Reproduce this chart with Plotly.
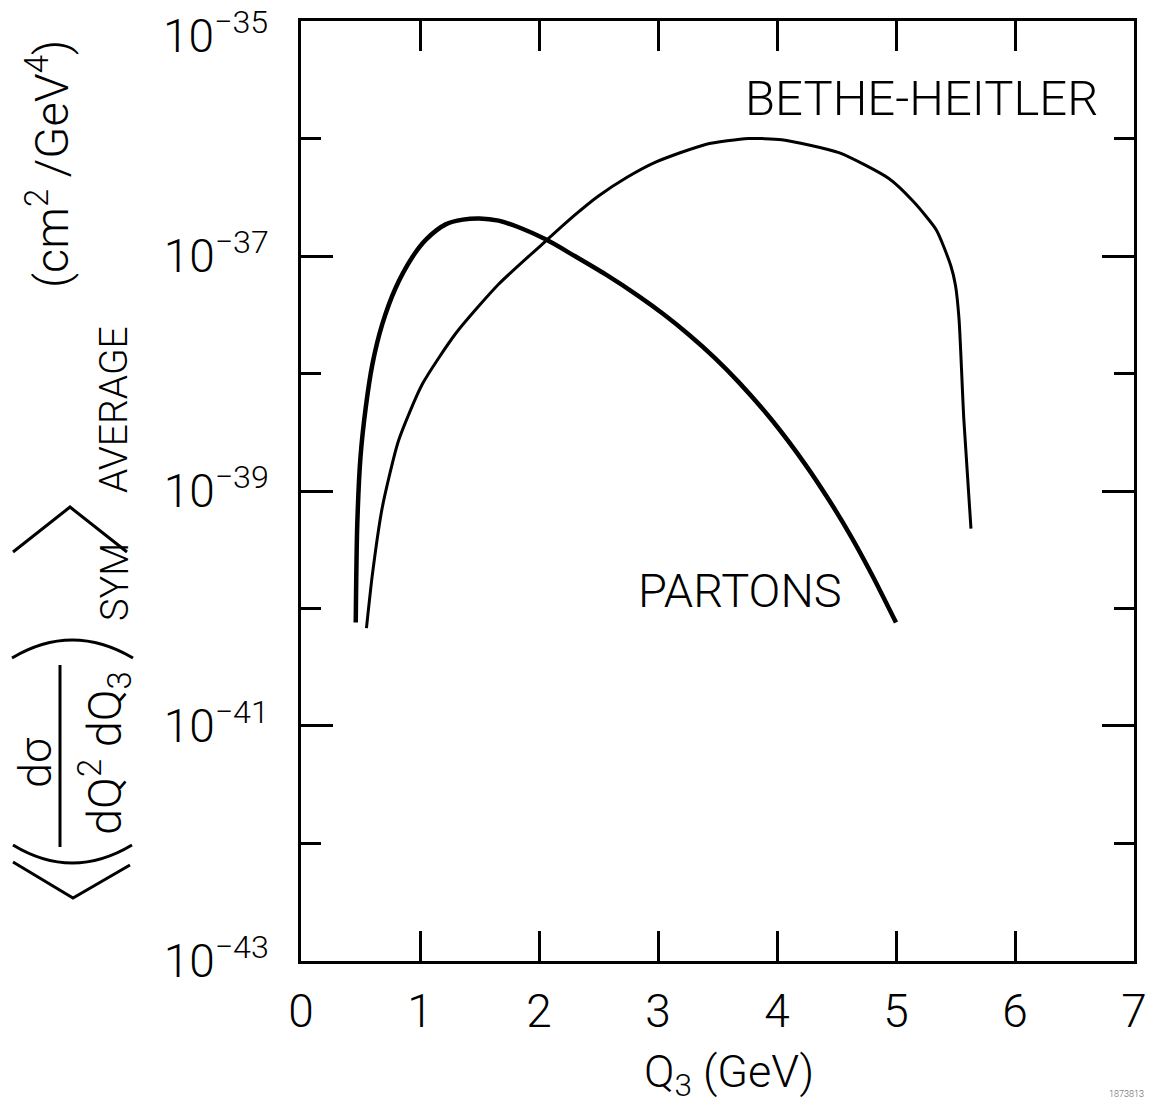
import plotly.graph_objects as go

# ---------------- data ----------------
partons_q = [0.46, 0.473, 0.50, 0.544, 0.60, 0.683, 0.796, 0.935, 1.05, 1.216, 1.36, 1.50,
             1.66, 1.84, 2.06, 2.30, 2.56, 2.84, 3.05, 3.26, 3.47, 3.68, 3.96, 4.24, 4.45,
             4.63, 4.80, 5.0]
partons_val = [7.6e-41, 5.25e-40, 1.95e-39, 5.13e-39, 1.20e-38, 2.63e-38, 5.37e-38, 9.77e-38,
               1.38e-37, 1.86e-37, 2.04e-37, 2.09e-37, 2.0e-37, 1.74e-37, 1.38e-37, 1.0e-37,
               6.97e-38, 4.54e-38, 3.18e-38, 2.14e-38, 1.38e-38, 8.41e-39, 3.98e-39, 1.67e-39,
               7.98e-40, 3.98e-40, 1.92e-40, 7.6e-41]

bh_q = [0.55, 0.60, 0.683, 0.82, 1.02, 1.30, 1.66, 2.07, 2.28, 2.50, 2.74, 2.98, 3.40, 3.76,
        4.04, 4.52, 4.94, 5.15, 5.34, 5.46, 5.50, 5.53, 5.57, 5.63]
bh_val = [6.8e-41, 1.95e-40, 7.24e-40, 2.69e-39, 8.13e-39, 2.19e-38, 5.75e-38, 1.38e-37,
          2.14e-37, 3.24e-37, 4.68e-37, 6.3e-37, 8.91e-37, 1.0e-36, 9.77e-37, 7.59e-37,
          4.57e-37, 2.88e-37, 1.66e-37, 8.3e-38, 5.62e-38, 2.88e-38, 4.07e-39, 4.79e-40]

x_ticks = [0, 1, 2, 3, 4, 5, 6, 7]
x_ticktext = ["0", "1", "2", "3", "4", "5", "6", "7"]
y_major = [1e-35, 1e-37, 1e-39, 1e-41, 1e-43]
# the top label is drawn as an annotation (it sits a little below its tick in the reference)
y_major_text = ["", "10<sup>\u221237</sup>", "10<sup>\u221239</sup>",
                "10<sup>\u221241</sup>", "10<sup>\u221243</sup>"]
y_top_label = "10<sup>\u221235</sup>"
y_minor = [1e-36, 1e-38, 1e-40, 1e-42]

# ---------------- layout geometry ----------------
W, H = 1153, 1108
L, R, T, B = 301, 19, 21, 147
FONT = "Roboto, 'Liberation Sans', sans-serif"


def px(x):
    return (x - L) / (W - L - R)


def py(y):
    return (H - B - y) / (H - T - B)


fig = go.Figure()
fig.add_trace(go.Scatter(x=partons_q, y=partons_val, mode="lines",
                         line=dict(color="black", width=4.5, shape="spline", smoothing=0.8),
                         showlegend=False, hoverinfo="skip"))
fig.add_trace(go.Scatter(x=bh_q, y=bh_val, mode="lines",
                         line=dict(color="black", width=3, shape="spline", smoothing=0.6),
                         showlegend=False, hoverinfo="skip"))

fig.update_layout(
    width=W, height=H,
    margin=dict(l=L, r=R, t=T, b=B, autoexpand=False),
    paper_bgcolor="white", plot_bgcolor="white",
    font=dict(family=FONT, color="black"),
    xaxis=dict(range=[0, 7], tickmode="array", tickvals=x_ticks, ticktext=x_ticktext,
               ticks="inside", ticklen=30, tickwidth=2.5, tickcolor="black",
               showline=True, linewidth=3, linecolor="black", mirror="ticks",
               showgrid=False, zeroline=False, automargin=False,
               tickfont=dict(size=46, family=FONT, weight=300), ticklabelstandoff=8),
    yaxis=dict(type="log", range=[-43.0005, -34.9995], tickmode="array", tickvals=y_major,
               ticktext=y_major_text, ticks="inside", ticklen=32, tickwidth=2.5,
               tickcolor="black", showline=True, linewidth=3, linecolor="black",
               mirror="ticks", showgrid=False, zeroline=False, automargin=False,
               tickfont=dict(size=46, family=FONT, weight=300), ticklabelstandoff=20,
               minor=dict(tickvals=y_minor, ticks="inside", ticklen=20, tickwidth=2.5,
                          tickcolor="black", showgrid=False)),
)

ann = []


def add_text(text, x, y, size, angle=0, color="black", xanchor="center"):
    ann.append(dict(text=text, x=px(x), y=py(y), xref="paper", yref="paper",
                    xanchor=xanchor, yanchor="middle", showarrow=False, textangle=angle,
                    font=dict(size=size, family=FONT, color=color, weight=300)))


add_text(y_top_label, 270, 33, 46, xanchor="right")
add_text("BETHE-HEITLER", 921, 98, 49)
add_text("PARTONS", 740, 590, 47)
add_text("Q<sub>3</sub> (GeV)", 729, 1074, 45)
add_text("1873813", 1126, 1094, 9, color="#555")

# rotated y-axis title pieces
add_text("(cm<sup>2</sup> /GeV<sup>4</sup>)", 48, 164, 47, angle=-90)
add_text("AVERAGE", 114, 410, 39, angle=-90)
add_text("SYM", 115, 582, 38, angle=-90)
add_text("d\u03c3", 35, 763, 45, angle=-90)
add_text("dQ<sup>2</sup> dQ<sub>3</sub>", 104, 753, 47, angle=-90)

fig.update_layout(annotations=ann)

shapes = []
lw = 3
# fraction bar
shapes.append(dict(type="line", xref="paper", yref="paper", x0=px(60), x1=px(60),
                   y0=py(665), y1=py(847), line=dict(color="black", width=lw)))
# parentheses (arches)
shapes.append(dict(type="path", xref="paper", yref="paper",
                   path=f"M {px(12)} {py(658)} Q {px(72)} {py(622)} {px(133)} {py(658)}",
                   line=dict(color="black", width=lw)))
shapes.append(dict(type="path", xref="paper", yref="paper",
                   path=f"M {px(13)} {py(845)} Q {px(72)} {py(881)} {px(132)} {py(845)}",
                   line=dict(color="black", width=lw)))
# angle brackets (chevrons)
shapes.append(dict(type="path", xref="paper", yref="paper",
                   path=f"M {px(13)} {py(552)} L {px(70)} {py(507)} L {px(127)} {py(552)}",
                   line=dict(color="black", width=lw)))
shapes.append(dict(type="path", xref="paper", yref="paper",
                   path=f"M {px(13)} {py(862)} L {px(73)} {py(898)} L {px(130)} {py(865)}",
                   line=dict(color="black", width=lw)))
fig.update_layout(shapes=shapes)

fig.write_html("out.html")
